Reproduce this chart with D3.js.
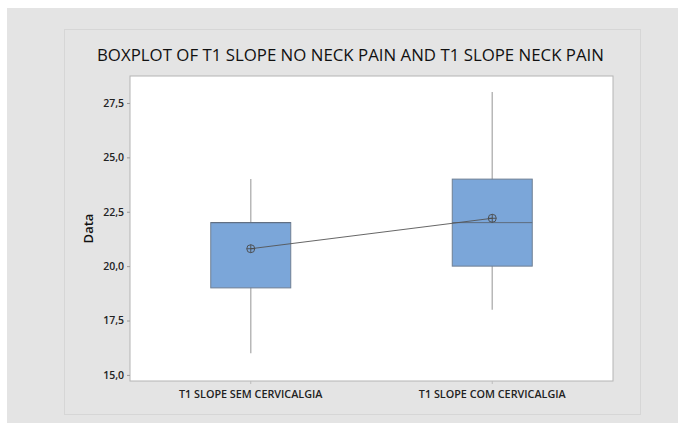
<!DOCTYPE html>
<html>
<head>
<meta charset="utf-8">
<script src="https://cdn.jsdelivr.net/npm/d3@7"></script>
<style>
  html, body { margin: 0; padding: 0; background: #fff; }
  svg { display: block; }
</style>
</head>
<body>
<div class="chart"></div>
<script>
// values
const categories = ['T1 SLOPE SEM CERVICALGIA', 'T1 SLOPE COM CERVICALGIA'];
const whiskerLow = [16, 18];
const q1 = [19, 20];
const median = [22, 22];
const q3 = [22, 24];
const whiskerHigh = [24, 28];
const means = [20.8, 22.2];
const yTicks = [15, 17.5, 20, 22.5, 25, 27.5];

const W = 678, H = 423;
const plot = {left: 130, top: 76, right: 613, bottom: 381};
const font = "'Open Sans', 'Noto Sans', sans-serif";

const svg = d3.select('.chart').append('svg')
    .attr('width', W)
    .attr('height', H);

// background + panel
svg.append('rect').attr('x', 7).attr('y', 8).attr('width', W - 7).attr('height', H - 8)
    .attr('fill', '#e4e4e4');
svg.append('rect').attr('x', 64.5).attr('y', 29.5).attr('width', 576).attr('height', 385)
    .attr('fill', '#e4e4e4').attr('stroke', '#d6d6d6');

// title
const title = svg.append('text')
    .attr('x', 350.5).attr('y', 61)
    .attr('text-anchor', 'middle')
    .attr('font-family', font)
    .attr('font-size', 17)
    .attr('font-weight', 500)
    .attr('fill', '#111')
    .text('BOXPLOT OF T1 SLOPE NO NECK PAIN AND T1 SLOPE NECK PAIN');
title.attr('textLength', 507).attr('lengthAdjust', 'spacingAndGlyphs');

// scales
let x = d3.scaleBand()
    .domain(categories)
    .range([plot.left, plot.right])
    .padding(0);
let y = d3.scaleLinear()
    .domain([14.72, 28.74])
    .range([plot.bottom, plot.top]);

// plot area
svg.append('rect')
    .attr('x', plot.left).attr('y', plot.top)
    .attr('width', plot.right - plot.left).attr('height', plot.bottom - plot.top)
    .attr('fill', '#fff').attr('stroke', '#b4b4b4');

// y axis
const fmt = d => d3.format('.1f')(d).replace('.', ',');
const yAxis = svg.append('g')
    .attr('transform', 'translate(' + plot.left + ',0)')
    .call(d3.axisLeft(y).tickValues(yTicks).tickFormat(fmt).tickSize(3).tickPadding(3));
yAxis.select('.domain').remove();
yAxis.selectAll('line').attr('stroke', '#9a9a9a');
yAxis.selectAll('text')
    .attr('font-family', font).attr('font-size', 10.5).attr('font-weight', 600)
    .attr('fill', '#222');

// x axis
const xAxis = svg.append('g')
    .attr('transform', 'translate(0,' + plot.bottom + ')')
    .call(d3.axisBottom(x).tickSize(3).tickPadding(6));
xAxis.select('.domain').remove();
xAxis.selectAll('line').attr('stroke', '#bdbdbd');
xAxis.selectAll('text')
    .attr('font-family', font).attr('font-size', 10.8).attr('font-weight', 600)
    .attr('fill', '#222');

// y label
svg.append('text')
    .attr('transform', 'translate(93,' + ((plot.top + plot.bottom) / 2) + ') rotate(-90)')
    .attr('text-anchor', 'middle')
    .attr('font-family', font).attr('font-size', 13).attr('font-weight', 600)
    .attr('fill', '#111')
    .text('Data');

const cx = i => x(categories[i]) + x.bandwidth() / 2;
const boxW = 80;
const idx = d3.range(categories.length);

// whiskers
svg.selectAll('.whisker')
    .data(idx)
    .enter().append('line')
    .attr('class', 'whisker')
    .attr('x1', cx).attr('x2', cx)
    .attr('y1', i => y(whiskerLow[i]))
    .attr('y2', i => y(whiskerHigh[i]))
    .attr('stroke', '#b8b8b8').attr('stroke-width', 1.5);

// boxes
svg.selectAll('.box')
    .data(idx)
    .enter().append('rect')
    .attr('class', 'box')
    .attr('x', i => cx(i) - boxW / 2)
    .attr('width', boxW)
    .attr('y', i => y(q3[i]))
    .attr('height', i => y(q1[i]) - y(q3[i]))
    .attr('fill', '#7ba6d9')
    .attr('stroke', '#6f7f93').attr('stroke-width', 1);

// medians
svg.selectAll('.median')
    .data(idx)
    .enter().append('line')
    .attr('class', 'median')
    .attr('x1', i => cx(i) - boxW / 2).attr('x2', i => cx(i) + boxW / 2)
    .attr('y1', i => y(median[i])).attr('y2', i => y(median[i]))
    .attr('stroke', '#5e6c7e').attr('stroke-width', 1);

// mean connect line
svg.append('path')
    .datum(idx)
    .attr('d', d3.line().x(cx).y(i => y(means[i])))
    .attr('fill', 'none')
    .attr('stroke', '#555').attr('stroke-width', 0.9);

// mean symbols
const sym = svg.selectAll('.mean')
    .data(idx)
    .enter().append('g')
    .attr('class', 'mean')
    .attr('transform', i => 'translate(' + cx(i) + ',' + y(means[i]) + ')');
sym.append('circle').attr('r', 4).attr('fill', 'none').attr('stroke', '#4a4a4a').attr('stroke-width', 0.9);
sym.append('line').attr('x1', -4).attr('x2', 4).attr('stroke', '#4a4a4a').attr('stroke-width', 0.9);
sym.append('line').attr('y1', -4).attr('y2', 4).attr('stroke', '#4a4a4a').attr('stroke-width', 0.9);
</script>
</body>
</html>
